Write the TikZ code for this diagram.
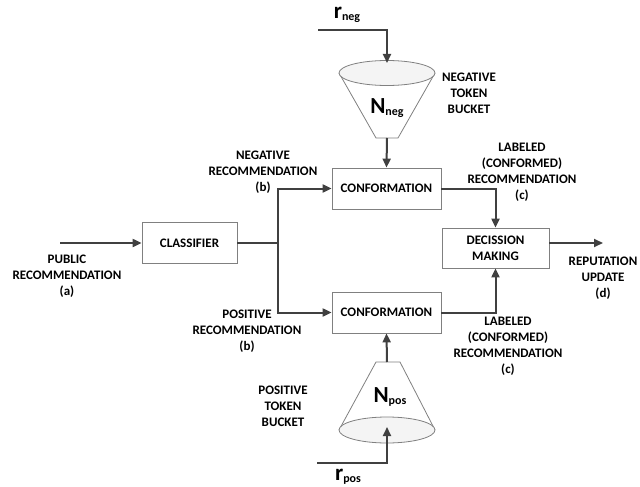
\documentclass[tikz,border=0pt]{standalone}
\usepackage{fontspec}
\setmainfont{Carlito}
\usetikzlibrary{arrows.meta}
\definecolor{linegray}{HTML}{404040}
\definecolor{boxgray}{HTML}{808080}
\definecolor{capfill}{HTML}{F4F4F4}
\newcommand{\lowidx}[1]{\raisebox{-0.2ex}{\fontsize{12}{14}\selectfont #1}}

\begin{document}
\begin{tikzpicture}[x=1pt,y=-1pt,
  flow/.style={draw=linegray, line width=2pt, -{Triangle[length=9pt,width=8pt]}},
  wire/.style={draw=linegray, line width=2pt},
  block/.style={draw=boxgray, line width=0.8pt, fill=white, inner sep=0pt,
    font=\bfseries\fontsize{13}{16}\selectfont, align=center},
  lbl/.style={font=\bfseries\fontsize{13}{16}\selectfont, align=center, inner sep=0pt},
  bucket/.style={draw=boxgray, line width=0.8pt},
  big/.style={font=\bfseries\fontsize{23}{24}\selectfont, inner sep=0pt}]

\useasboundingbox (0,0) rectangle (640,487);

% processing blocks
\node[block, minimum width=95pt, minimum height=41pt] (cls) at (189.5,243) {CLASSIFIER};
\node[block, minimum width=109pt, minimum height=41pt] (confN) at (386.5,188.5) {CONFORMATION};
\node[block, minimum width=109pt, minimum height=41pt] (confP) at (386.5,312.5) {CONFORMATION};
\node[block, minimum width=107pt, minimum height=40pt] (dec) at (495.5,248) {DECISSION\\MAKING};

% negative token bucket (cone opening upwards)
\draw[bucket, fill=white] (339,73) -- (376,138) -- (398,138) -- (435,73);
\draw[bucket, fill=capfill] (387,73) ellipse [x radius=48, y radius=12.5];
\node[big] (Nneg) at (387,108) {N\lowidx{neg}};
\coordinate (negout) at (387,138);

% positive token bucket (cone opening downwards)
\draw[bucket, fill=white] (339,430) -- (376,362) -- (400,362) -- (435,430);
\draw[bucket, fill=capfill] (387,430) ellipse [x radius=48, y radius=13];
\node[big] (Npos) at (390,397) {N\lowidx{pos}};
\coordinate (posout) at (387,362);

% token rates
\coordinate (rnegstart) at (318,30);
\coordinate (rnegtip) at (387,63);
\coordinate (rposstart) at (317,463);
\coordinate (rpostip) at (387,427);
\node[big] (rneg) at (347,15) {r\lowidx{neg}};
\node[big] (rpos) at (348,477) {r\lowidx{pos}};
\draw[flow] (rnegstart) -| (rnegtip);
\draw[flow] (rposstart) -| (rpostip);
\draw[flow] (negout) -- (confN.north);
\draw[flow] (posout) -- (confP.south);

% main signal path
\coordinate (in) at (60,243);
\coordinate (jn) at (278,243);
\coordinate (out) at (603,243);
\draw[flow] (in) -- (cls.west);
\draw[wire] (cls.east) -- (jn);
\draw[flow] (jn) |- (confN.west);
\draw[flow] (jn) |- (confP.west);
\draw[flow] (confN.east) -| (dec.north);
\draw[flow] (confP.east) -| (dec.south);
\draw[flow] (dec.east |- out) -- (out);

% labels
\node[lbl] (lin) at (67,276) {PUBLIC\\RECOMMENDATION\\(a)};
\node[lbl] (lneg) at (263,172) {NEGATIVE\\RECOMMENDATION\\(b)};
\node[lbl] (lpos) at (247,331) {POSITIVE\\RECOMMENDATION\\(b)};
\node[lbl] (lcN) at (522,172) {LABELED\\(CONFORMED)\\RECOMMENDATION\\(c)};
\node[lbl] (lcP) at (508,346.5) {LABELED\\(CONFORMED)\\RECOMMENDATION\\(c)};
\node[lbl] (lout) at (603,278) {REPUTATION\\UPDATE\\(d)};
\node[lbl] (lbN) at (469,93) {NEGATIVE\\TOKEN\\BUCKET};
\node[lbl] (lbP) at (283,406) {POSITIVE\\TOKEN\\BUCKET};
\end{tikzpicture}
\end{document}
